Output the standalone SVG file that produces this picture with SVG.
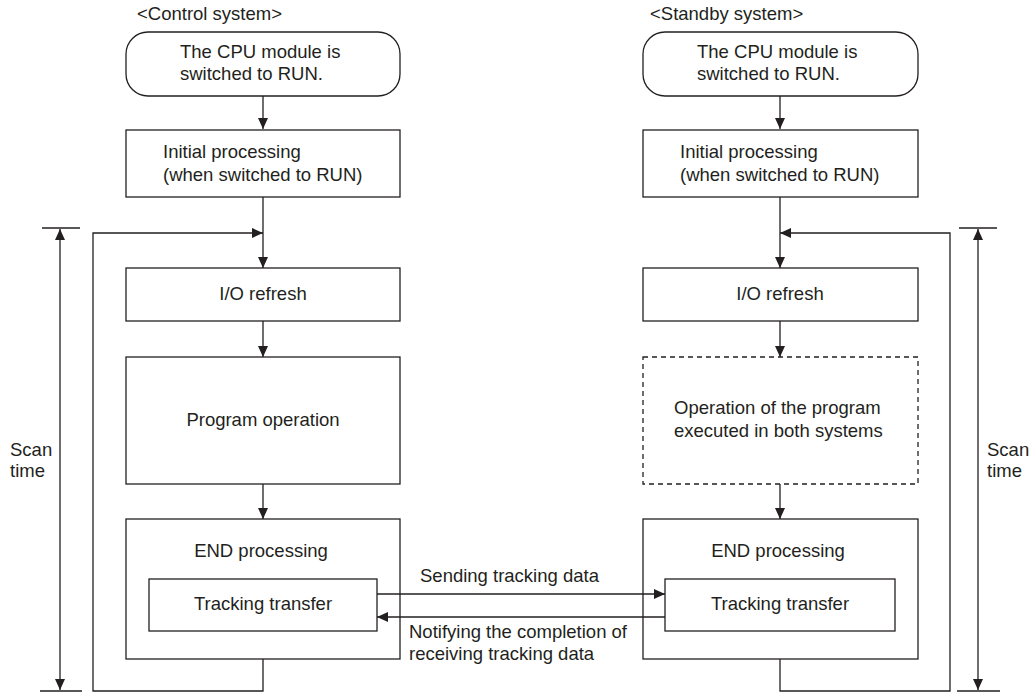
<svg xmlns="http://www.w3.org/2000/svg" width="1031" height="692" viewBox="0 0 1031 692">
<style>
.box{fill:#fff;stroke:#231f20;stroke-width:1.3}
.dash{fill:#fff;stroke:#231f20;stroke-width:1.3;stroke-dasharray:5 4}
.ln{fill:none;stroke:#231f20;stroke-width:1.3}
.t{font-family:"Liberation Sans",Arial,sans-serif;font-size:18.5px;fill:#231f20}
.c{text-anchor:middle}
</style>
<defs>
<marker id="ah" viewBox="0 0 11 10" refX="11" refY="5" markerWidth="11" markerHeight="10" markerUnits="userSpaceOnUse" orient="auto">
<path d="M0,0 L11,5 L0,10 z" fill="#231f20"/>
</marker>
</defs>
<rect width="1031" height="692" fill="#fff"/>
<g id="labels">
<text class="t" x="137" y="20">&lt;Control system&gt;</text>
<text class="t" x="650" y="20">&lt;Standby system&gt;</text>
<text class="t" x="10" y="456">Scan</text>
<text class="t" x="10" y="477">time</text>
<text class="t" x="987" y="456">Scan</text>
<text class="t" x="987" y="477">time</text>
</g>
<g id="c-run">
<rect class="box" x="126" y="32" width="274" height="64" rx="22"/>
<text class="t" x="180" y="58">The CPU module is</text>
<text class="t" x="180" y="80">switched to RUN.</text>
</g>
<g id="c-init">
<rect class="box" x="126" y="130" width="274" height="67"/>
<text class="t" x="163" y="158">Initial processing</text>
<text class="t" x="163" y="181">(when switched to RUN)</text>
</g>
<g id="c-io">
<rect class="box" x="126" y="268" width="274" height="53"/>
<text class="t c" x="263" y="300">I/O refresh</text>
</g>
<g id="c-prog">
<rect class="box" x="126" y="357" width="274" height="127"/>
<text class="t c" x="263" y="426">Program operation</text>
</g>
<g id="c-end">
<rect class="box" x="126" y="519" width="274" height="140"/>
<text class="t c" x="261" y="557">END processing</text>
</g>
<g id="c-track">
<rect class="box" x="149" y="579" width="228" height="52"/>
<text class="t c" x="263" y="610">Tracking transfer</text>
</g>
<g id="s-run">
<rect class="box" x="643" y="32" width="275" height="64" rx="22"/>
<text class="t" x="697" y="58">The CPU module is</text>
<text class="t" x="697" y="80">switched to RUN.</text>
</g>
<g id="s-init">
<rect class="box" x="643" y="130" width="275" height="67"/>
<text class="t" x="680" y="158">Initial processing</text>
<text class="t" x="680" y="181">(when switched to RUN)</text>
</g>
<g id="s-io">
<rect class="box" x="643" y="268" width="275" height="53"/>
<text class="t c" x="780" y="300">I/O refresh</text>
</g>
<g id="s-prog">
<rect class="dash" x="643" y="357" width="275" height="127"/>
<text class="t" x="674" y="414">Operation of the program</text>
<text class="t" x="674" y="437">executed in both systems</text>
</g>
<g id="s-end">
<rect class="box" x="643" y="519" width="275" height="140"/>
<text class="t c" x="778" y="557">END processing</text>
</g>
<g id="s-track">
<rect class="box" x="665" y="579" width="230" height="52"/>
<text class="t c" x="780" y="610">Tracking transfer</text>
</g>
<g id="connectors">
<line class="ln" x1="263" y1="96" x2="263" y2="129" marker-end="url(#ah)"/>
<line class="ln" x1="263" y1="197" x2="263" y2="268" marker-end="url(#ah)"/>
<line class="ln" x1="263" y1="321" x2="263" y2="357" marker-end="url(#ah)"/>
<line class="ln" x1="263" y1="484" x2="263" y2="519" marker-end="url(#ah)"/>
<polyline class="ln" points="263,659 263,691 93,691 93,233 263,233" marker-end="url(#ah)"/>
<line class="ln" x1="780" y1="96" x2="780" y2="129" marker-end="url(#ah)"/>
<line class="ln" x1="780" y1="197" x2="780" y2="268" marker-end="url(#ah)"/>
<line class="ln" x1="780" y1="321" x2="780" y2="357" marker-end="url(#ah)"/>
<line class="ln" x1="780" y1="484" x2="780" y2="519" marker-end="url(#ah)"/>
<polyline class="ln" points="780,659 780,691 950,691 950,233 780,233" marker-end="url(#ah)"/>
<line class="ln" x1="377" y1="594" x2="665" y2="594" marker-end="url(#ah)"/>
<line class="ln" x1="665" y1="617" x2="377" y2="617" marker-end="url(#ah)"/>
<line class="ln" x1="42" y1="228" x2="80" y2="228"/>
<line class="ln" x1="40" y1="691" x2="82" y2="691"/>
<line class="ln" x1="60" y1="460" x2="60" y2="229" marker-end="url(#ah)"/>
<line class="ln" x1="60" y1="460" x2="60" y2="690" marker-end="url(#ah)"/>
<line class="ln" x1="959" y1="228" x2="997" y2="228"/>
<line class="ln" x1="957" y1="691" x2="1000" y2="691"/>
<line class="ln" x1="978" y1="460" x2="978" y2="229" marker-end="url(#ah)"/>
<line class="ln" x1="978" y1="460" x2="978" y2="690" marker-end="url(#ah)"/>
<text class="t" x="420" y="582">Sending tracking data</text>
<text class="t" x="409" y="638">Notifying the completion of</text>
<text class="t" x="409" y="660">receiving tracking data</text>
</g>
</svg>
